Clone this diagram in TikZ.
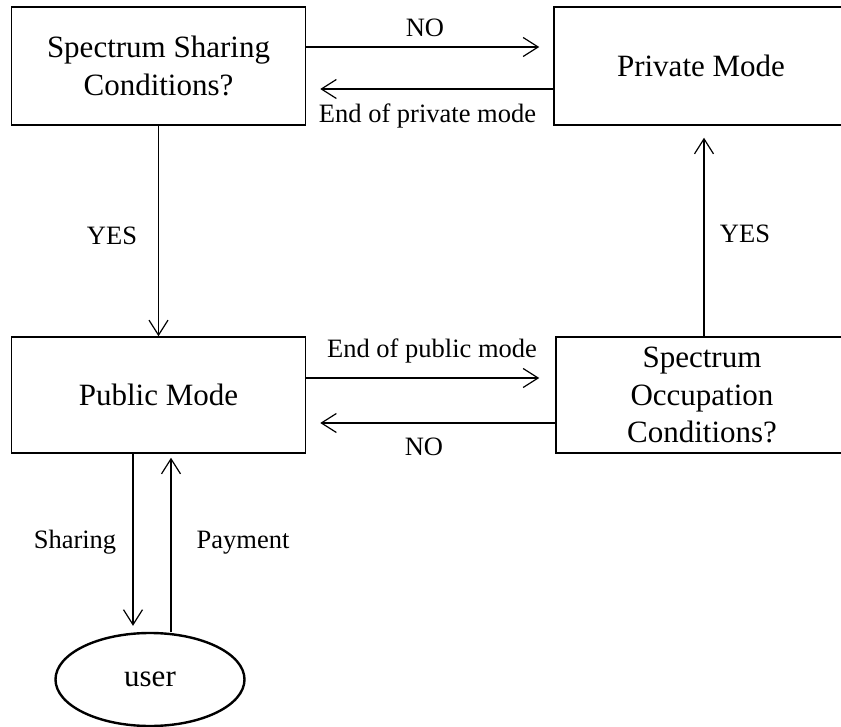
\documentclass[tikz,border=0pt]{standalone}
\usepackage{fontspec}
\setmainfont{Liberation Serif}
\usetikzlibrary{arrows.meta,shapes.geometric}

\tikzset{
  box/.style={draw, line width=1.5pt, rectangle, minimum width=294pt, minimum height=118pt,
              align=center, inner sep=0pt, font=\fontsize{31}{37.8}\selectfont},
  userell/.style={draw, line width=2.4pt, ellipse, minimum width=189pt, minimum height=93pt,
              inner sep=0pt, font=\fontsize{31}{37.8}\selectfont},
  flow/.style={line width=1.2pt, -{Straight Barb[length=15pt,width=19pt,line width=1.2pt]}},
  lbl/.style={inner sep=0pt, anchor=base, font=\fontsize{26.5}{32}\selectfont}
}

\begin{document}
\begin{tikzpicture}[x=1pt, y=-1pt]
  \useasboundingbox (0,0) rectangle (841,727);
  \clip (0,0) rectangle (841,727);
  \fill[white] (0,0) rectangle (841,727);

  % decision and mode boxes
  \node[box] (ssc)  at (158.5,66)  {Spectrum Sharing\\Conditions?};
  \node[box] (priv) at (701,66)    {Private Mode};
  \node[box, minimum height=116pt] (pub) at (158.5,395) {Public Mode};
  \node[box, minimum height=116pt, minimum width=292pt] (soc) at (702,395)
        {Spectrum\\Occupation\\Conditions?};
  \node[userell] (user) at (150,679.5) {user};

  % top pair of connectors
  \draw[flow, shorten >=14pt] (ssc.east |- 0,47) -- (priv.west |- 0,47);
  \draw[flow, shorten >=14pt] (priv.west |- 0,89) -- (ssc.east |- 0,89);
  \node[lbl] (lno1)  at (425,37)   {NO};
  \node[lbl] (lend1) at (427.5,123) {End of private mode};

  % vertical connectors
  \draw[flow] (ssc.south) -- (pub.north);
  \node[lbl] (lyes1) at (112,245) {YES};
  \draw[flow, shorten >=12pt] (soc.north -| 704,0) -- (priv.south -| 704,0);
  \node[lbl] (lyes2) at (745,243) {YES};

  % middle pair of connectors
  \draw[flow, shorten >=16pt] (pub.east |- 0,378) -- (soc.west |- 0,378);
  \draw[flow, shorten >=14pt] (soc.west |- 0,423) -- (pub.east |- 0,423);
  \node[lbl] (lend2) at (432,358) {End of public mode};
  \node[lbl] (lno2)  at (424,455) {NO};

  % public mode and user
  \draw[flow, shorten >=6pt] (pub.south -| 133,0) -- (user.north -| 133,0);
  \draw[flow, shorten >=4pt] (user.north -| 171,0) -- (pub.south -| 171,0);
  \node[lbl] (lshare) at (75,548)  {Sharing};
  \node[lbl] (lpay)   at (243,548) {Payment};
\end{tikzpicture}
\end{document}
